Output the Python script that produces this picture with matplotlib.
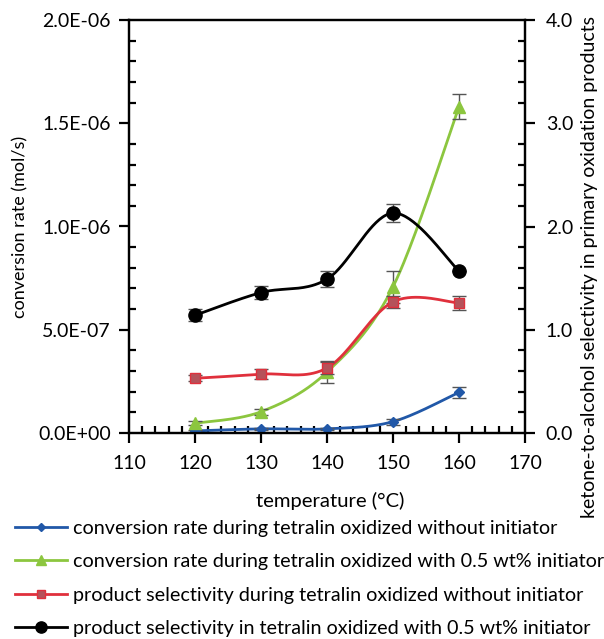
import numpy as np
import matplotlib.pyplot as plt
from matplotlib.ticker import MultipleLocator, FuncFormatter

temps = [120, 130, 140, 150, 160]

# conversion rate (mol/s), left axis
conv_no_init = [1.0e-8, 2.0e-8, 2.0e-8, 5.5e-8, 1.97e-7]
conv_no_init_err = [0.3e-8, 0.5e-8, 0.5e-8, 1.5e-8, 2.7e-8]
conv_init = [4.7e-8, 1.03e-7, 2.95e-7, 7.08e-7, 1.58e-6]
conv_init_err = [1.0e-8, 1.5e-8, 5.3e-8, 7.7e-8, 6.0e-8]

# ketone-to-alcohol selectivity, right axis
sel_no_init = [0.53, 0.57, 0.63, 1.27, 1.26]
sel_no_init_err = [0.03, 0.05, 0.06, 0.06, 0.07]
sel_init = [1.14, 1.36, 1.49, 2.13, 1.57]
sel_init_err = [0.06, 0.06, 0.08, 0.09, 0.0]

labels = ["conversion rate during tetralin oxidized without initiator",
          "conversion rate during tetralin oxidized with 0.5 wt% initiator",
          "product selectivity during tetralin oxidized without initiator",
          "product selectivity in tetralin oxidized with 0.5 wt% initiator"]

plt.rcParams['font.family'] = ['Lato', 'DejaVu Sans']


def smooth(xs, ys, xr, yr, n=40):
    # excel-like smoothed line: cubic bezier, catmull-rom control points
    x = (np.asarray(xs, float) - xr[0]) / (xr[1] - xr[0])
    y = (np.asarray(ys, float) - yr[0]) / (yr[1] - yr[0])
    px, py = [], []
    m = len(x)
    for i in range(m - 1):
        i0 = max(i - 1, 0)
        i3 = min(i + 2, m - 1)
        c1x = x[i] + (x[i + 1] - x[i0]) / 6
        c1y = y[i] + (y[i + 1] - y[i0]) / 6
        c2x = x[i + 1] - (x[i3] - x[i]) / 6
        c2y = y[i + 1] - (y[i3] - y[i]) / 6
        t = np.linspace(0, 1, n)
        bx = (1-t)**3*x[i] + 3*(1-t)**2*t*c1x + 3*(1-t)*t**2*c2x + t**3*x[i+1]
        by = (1-t)**3*y[i] + 3*(1-t)**2*t*c1y + 3*(1-t)*t**2*c2y + t**3*y[i+1]
        px.extend(bx)
        py.extend(by)
    px = np.array(px) * (xr[1] - xr[0]) + xr[0]
    py = np.array(py) * (yr[1] - yr[0]) + yr[0]
    return px, py


fig = plt.figure(figsize=(6.04, 6.39), dpi=100)
ax = fig.add_axes([129/604, 1-433/639, (525-129)/604, (433-20)/639])
ax2 = ax.twinx()

xr = (110, 170)
yl = (0, 2e-6)
yrr = (0, 4)
ecol = '#555555'

series = [
    (ax, conv_no_init, conv_no_init_err, yl, '#2158A8', 'D', 5, '#2158A8', '#2158A8'),
    (ax, conv_init, conv_init_err, yl, '#8CC63F', '^', 8, '#8CC63F', '#8CC63F'),
    (ax2, sel_no_init, sel_no_init_err, yrr, '#E0303C', 's', 7.5, '#B5525A', '#E0303C'),
    (ax2, sel_init, sel_init_err, yrr, 'black', 'o', 9.5, 'black', 'black'),
]

handles = []
for a, vals, err, yr, col, mk, ms, fc, ec in series:
    sx, sy = smooth(temps, vals, xr, yr)
    a.plot(sx, sy, color=col, lw=2, zorder=2)
    a.errorbar(temps, vals, yerr=err, fmt='none', ecolor=ecol, elinewidth=1,
               capsize=5, capthick=1, zorder=3)
    a.plot(temps, vals, ls='none', marker=mk, ms=ms, mfc=fc, mec=ec, zorder=4)
    h, = plt.plot([], [], color=col, lw=2, marker=mk, ms=ms * 0.85, mfc=fc, mec=ec)
    handles.append(h)

ax.set_xlim(*xr)
ax.set_ylim(*yl)
ax2.set_ylim(*yrr)

ax.xaxis.set_major_locator(MultipleLocator(10))
ax.xaxis.set_minor_locator(MultipleLocator(2))
ax.yaxis.set_major_locator(MultipleLocator(5e-7))
ax.yaxis.set_minor_locator(MultipleLocator(1e-7))
ax.yaxis.set_major_formatter(FuncFormatter(lambda v, p: f"{v:.1E}"))
ax2.yaxis.set_major_locator(MultipleLocator(1))
ax2.yaxis.set_minor_locator(MultipleLocator(0.2))
ax2.yaxis.set_major_formatter(FuncFormatter(lambda v, p: f"{v:.1f}"))

for a in (ax, ax2):
    for s in a.spines.values():
        s.set_linewidth(1.6)
    a.tick_params(which='major', direction='out', length=7, width=1.6, labelsize=14)
    a.tick_params(which='minor', direction='in', length=5, width=1.6)
ax.tick_params(axis='y', which='major', pad=6)
ax.tick_params(axis='x', which='major', pad=9)
ax2.tick_params(axis='y', which='major', pad=8)

fig.text(20/604, 1-227/639, "conversion rate (mol/s)", fontsize=13,
         rotation=90, ha='center', va='center')
fig.text(590/604, 1-267/639,
         "ketone-to-alcohol selectivity in primary oxidation products",
         fontsize=14, rotation=90, ha='center', va='center')
fig.text(330/604, 1-501/639, "temperature (°C)", fontsize=14.6,
         ha='center', va='center')

fig.legend(handles, labels, loc='upper left', bbox_to_anchor=(15/604, 1-520/639),
           frameon=False, fontsize=14.2, handlelength=2.65, handletextpad=0.3,
           labelspacing=0.83, borderaxespad=0, borderpad=0)

fig.savefig("out.png", dpi=100)
